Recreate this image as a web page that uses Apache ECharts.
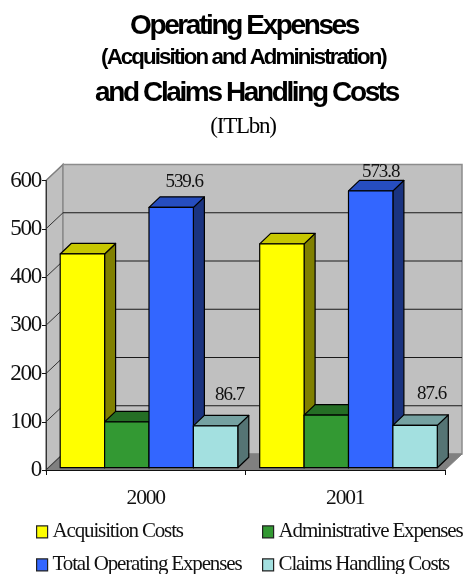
<!DOCTYPE html>
<html>
<head>
<meta charset="utf-8">
<style>html,body{margin:0;padding:0;background:#fff}#c{width:465px;height:574px}</style>
<script src="https://cdn.jsdelivr.net/npm/echarts@6/dist/echarts.min.js"></script>
</head>
<body>
<div id="c"></div>
<script>
const categories = ['2000', '2001'];
const yTicks = [0, 100, 200, 300, 400, 500, 600];
const acquisitionCosts = [443, 464];
const administrativeExpenses = [95, 109];
const totalOperatingExpenses = [539.6, 573.8];
const claimsHandlingCosts = [86.7, 87.6];

// Condensed text, as in the reference
const fontDesc = Object.getOwnPropertyDescriptor(CanvasRenderingContext2D.prototype, 'font');
Object.defineProperty(CanvasRenderingContext2D.prototype, 'font', {
  get() { return fontDesc.get.call(this); },
  set(v) {
    fontDesc.set.call(this, v);
    const m = /(\d+(?:\.\d+)?)px/.exec(v);
    const k = /bold/.test(v) ? -0.085 : -0.055;
    if (m) this.letterSpacing = (k * parseFloat(m[1])).toFixed(2) + 'px';
  }
});

const SERIF = '"Liberation Serif"';
const SANS = '"Liberation Sans"';
const WALL_DX = 17, WALL_DY = 16;
const BAR_DX = 11, BAR_DY = 10.5;
const BAR_SHIFT_X = 3.25, BAR_SHIFT_Y = 2.3;
const BAR_W_RATIO = 44.4 / 199.5;
const LABEL_OFFSETS = {
  2: [[13, -25.5], [10, -19]],
  3: [[14, -31], [16.5, -31]]
};

function shade(rgb, k) { return 'rgb(' + rgb.map(c => Math.round(c * k)).join(',') + ')'; }

function barSeries(name, values, rgb, topK, sideK, idx) {
  const face = 'rgb(' + rgb.join(',') + ')';
  return {
    name, type: 'custom', coordinateSystem: 'cartesian2d', clip: false,
    data: values.map((v, i) => [i, v]),
    itemStyle: { color: face, borderColor: '#000', borderWidth: 1.2 },
    encode: { x: 0, y: 1 },
    z: 5 + idx,
    renderItem(params, api) {
      const cat = api.value(0), val = api.value(1);
      const band = api.size([1, 0])[0];
      const w = band * BAR_W_RATIO;
      const c = api.coord([cat, 0]);
      const t = api.coord([cat, val]);
      const x0 = c[0] - 2 * w + BAR_SHIFT_X + idx * w;
      const x1 = x0 + w;
      const yb = c[1] - BAR_SHIFT_Y;
      const yt = t[1] - BAR_SHIFT_Y;
      const line = { stroke: '#000', lineWidth: 1.2, lineJoin: 'round' };
      const children = [
        { type: 'polygon', shape: { points: [[x1, yb], [x1, yt], [x1 + BAR_DX, yt - BAR_DY], [x1 + BAR_DX, yb - BAR_DY]] },
          style: Object.assign({ fill: shade(rgb, sideK) }, line) },
        { type: 'polygon', shape: { points: [[x0, yt], [x1, yt], [x1 + BAR_DX, yt - BAR_DY], [x0 + BAR_DX, yt - BAR_DY]] },
          style: Object.assign({ fill: shade(rgb, topK) }, line) },
        { type: 'rect', shape: { x: x0, y: yt, width: w, height: yb - yt },
          style: Object.assign({ fill: face }, line) }
      ];
      const off = LABEL_OFFSETS[idx];
      if (off) {
        children.push({
          type: 'text', z2: 50,
          style: { text: val.toFixed(1), x: (x0 + x1) / 2 + off[cat][0], y: yt + off[cat][1],
            align: 'center', verticalAlign: 'middle', fill: '#111', font: '19px ' + SERIF }
        });
      }
      return { type: 'group', children };
    }
  };
}

const wallSeries = {
  type: 'custom', coordinateSystem: 'cartesian2d', clip: false, silent: true, z: 1,
  data: yTicks.map(v => [0, v]),
  encode: { x: 0, y: 1 },
  renderItem(params, api) {
    const v = api.value(1);
    const band = api.size([1, 0])[0];
    const p = api.coord([0, v]);
    const xL = p[0] - band / 2;
    const xR = xL + band * categories.length;
    const y0 = api.coord([0, yTicks[0]])[1];
    const yTop = api.coord([0, yTicks[yTicks.length - 1]])[1];
    const children = [];
    if (params.dataIndex === 0) {
      children.push(
        { type: 'polygon', shape: { points: [[xL, y0], [xL, yTop], [xL + WALL_DX, yTop - WALL_DY], [xL + WALL_DX, y0 - WALL_DY]] },
          style: { fill: '#c0c0c0', stroke: '#808080', lineWidth: 1.5 } },
        { type: 'polygon', shape: { points: [[xL + WALL_DX, y0 - WALL_DY], [xL + WALL_DX, yTop - WALL_DY], [xR + WALL_DX, yTop - WALL_DY], [xR + WALL_DX, y0 - WALL_DY]] },
          style: { fill: '#c0c0c0', stroke: '#8c8c8c', lineWidth: 1.5 } },
        { type: 'polygon', shape: { points: [[xL, y0], [xR, y0], [xR + WALL_DX, y0 - WALL_DY], [xL + WALL_DX, y0 - WALL_DY]] },
          style: { fill: '#808080', stroke: '#808080', lineWidth: 1 } }
      );
    }
    if (v !== yTicks[0] && v !== yTicks[yTicks.length - 1]) {
      children.push({ type: 'line', shape: { x1: xL + WALL_DX, y1: p[1] - WALL_DY, x2: xR + WALL_DX, y2: p[1] - WALL_DY },
        style: { stroke: '#1a1a1a', lineWidth: 1 } });
    }
    children.push({ type: 'line', shape: { x1: xL, y1: p[1], x2: xL + WALL_DX, y2: p[1] - WALL_DY },
      style: { stroke: v === yTicks[yTicks.length - 1] ? '#808080' : '#333', lineWidth: 1 } });
    return { type: 'group', children };
  }
};

const titleLines = [
  { text: 'Operating Expenses', size: 28, cx: 244, top: 13, bold: true },
  { text: '(Acquisition and Administration)', size: 22.3, cx: 243.5, top: 48, bold: true },
  { text: 'and Claims Handling Costs', size: 28, cx: 246.5, top: 80, bold: true },
  { text: '(ITLbn)', size: 23, cx: 243, top: 116, bold: false }
];

const legendItems = [
  { name: 'Acquisition Costs', left: 36, top: 522 },
  { name: 'Administrative Expenses', left: 262, top: 522 },
  { name: 'Total Operating Expenses', left: 36, top: 555 },
  { name: 'Claims Handling Costs', left: 262, top: 555 }
];

const option = {
  animation: false,
  backgroundColor: '#fff',
  title: titleLines.map(t => ({
    text: t.text, left: t.cx, top: t.top, textAlign: 'center', padding: 0,
    textStyle: { fontFamily: t.bold ? SANS : SERIF, fontWeight: t.bold ? 'bold' : 'normal', fontSize: t.size, color: '#000' }
  })),
  grid: { left: 46, right: 20, top: 180.5, bottom: 104, containLabel: false },
  xAxis: {
    type: 'category', data: categories, z: 20,
    axisLine: { lineStyle: { color: '#111', width: 1 } },
    axisTick: { show: true, length: 5, alignWithLabel: false, lineStyle: { color: '#111' } },
    axisLabel: { fontFamily: SERIF, fontSize: 21.5, color: '#111', margin: 18 },
    splitLine: { show: false }
  },
  yAxis: {
    type: 'value', min: 0, max: 600, interval: 100, z: 20,
    axisLine: { show: true, lineStyle: { color: '#333', width: 1 } },
    axisTick: { show: true, length: 4, lineStyle: { color: '#111' } },
    axisLabel: { fontFamily: SERIF, fontSize: 23, color: '#111', margin: 5 },
    splitLine: { show: false }
  },
  legend: legendItems.map(l => ({
    left: l.left, top: l.top, padding: 0, icon: 'rect', itemWidth: 11, itemHeight: 12, itemGap: 0, selectedMode: false,
    data: [l.name],
    textStyle: { fontFamily: SERIF, fontSize: 21, color: '#111', padding: [0, 0, 0, 0] },
    itemStyle: { borderColor: '#222', borderWidth: 1.2 }
  })),
  series: [
    wallSeries,
    barSeries('Acquisition Costs', acquisitionCosts, [255, 255, 0], 0.78, 0.5, 0),
    barSeries('Administrative Expenses', administrativeExpenses, [51, 153, 51], 0.72, 0.5, 1),
    barSeries('Total Operating Expenses', totalOperatingExpenses, [51, 102, 255], 0.75, 0.5, 2),
    barSeries('Claims Handling Costs', claimsHandlingCosts, [163, 224, 224], 0.72, 0.52, 3)
  ]
};

const chart = echarts.init(document.getElementById('c'), null, { renderer: 'canvas', width: 465, height: 574 });
chart.setOption(option);
</script>
</body>
</html>
